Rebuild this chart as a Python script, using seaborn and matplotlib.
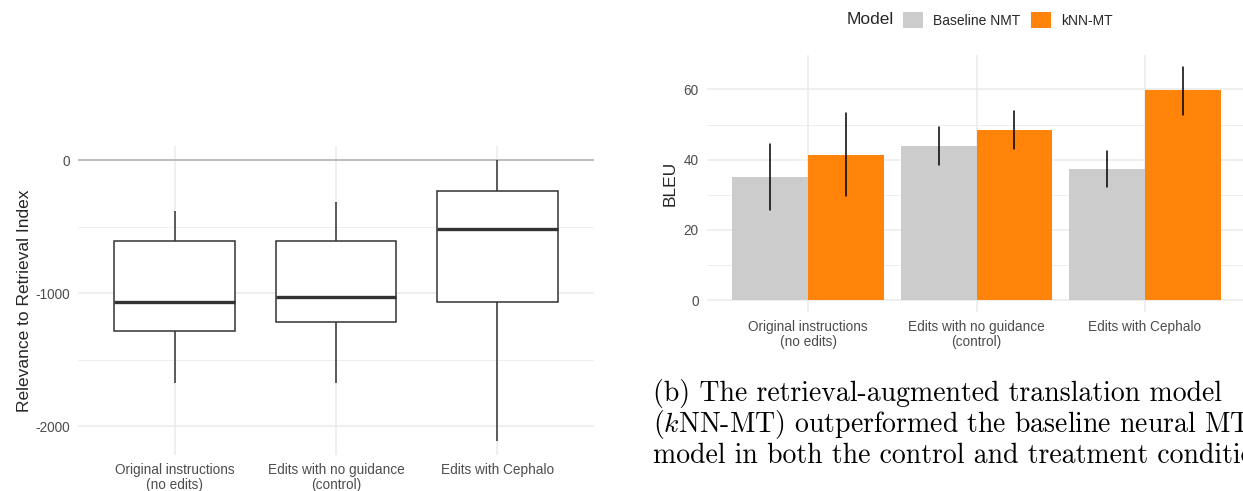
import numpy as np
import pandas as pd
import matplotlib
matplotlib.use("Agg")
import matplotlib.pyplot as plt
import seaborn as sns
from matplotlib.ticker import MultipleLocator, FixedLocator

# ---------------- data ----------------
conditions = ["Original instructions\n(no edits)",
              "Edits with no guidance\n(control)",
              "Edits with Cephalo"]

# five-number summaries (low whisker, Q1, median, Q3, high whisker)
relevance_original = [-1672, -1282, -1070, -606, -386]
relevance_control = [-1672, -1214, -1032, -608, -318]
relevance_cephalo = [-2110, -1070, -517, -234, 0]

models = ["Baseline NMT", "kNN-MT"]
bleu_baseline = [35.0, 44.0, 37.3]
bleu_baseline_low = [25.6, 38.4, 32.1]
bleu_baseline_high = [44.4, 49.4, 42.4]
bleu_knn = [41.4, 48.5, 59.7]
bleu_knn_low = [29.6, 43.0, 52.7]
bleu_knn_high = [53.2, 53.9, 66.5]

relevance_ticks = [-2000, -1000, 0]
bleu_ticks = [0, 20, 40, 60]

caption_lines = [
    "(b) The retrieval-augmented translation model",
    "($k$NN-MT) outperformed the baseline neural MT",
    "model in both the control and treatment conditions.",
]

# ---------------- tables ----------------
df_rel = pd.DataFrame({
    "Condition": np.repeat(conditions, 5),
    "Relevance": relevance_original + relevance_control + relevance_cephalo,
})

rows = []
for model, vals, lows, highs in [(models[0], bleu_baseline, bleu_baseline_low, bleu_baseline_high),
                                 (models[1], bleu_knn, bleu_knn_low, bleu_knn_high)]:
    for cond, v, lo, hi in zip(conditions, vals, lows, highs):
        for x in (lo, v, hi):
            rows.append({"Condition": cond, "Model": model, "BLEU": x})
df_bleu = pd.DataFrame(rows)

# ---------------- style ----------------
sns.set_theme(style="white")
plt.rcParams["font.family"] = ["Liberation Sans", "DejaVu Sans"]
plt.rcParams["axes.unicode_minus"] = False
plt.rcParams["mathtext.fontset"] = "cm"

W, H = 1243, 491
fig = plt.figure(figsize=(W / 100, H / 100), dpi=100)

def box(l, r, t, b):
    return [l / W, 1 - b / H, (r - l) / W, (b - t) / H]

ax1 = fig.add_axes(box(78, 594, 146, 455))
ax2 = fig.add_axes(box(707, 1246, 55, 311.7))

GRID = "#EBEBEB"
TICKC = "#4D4D4D"

# ---------------- left: box plot ----------------
sns.boxplot(data=df_rel, x="Condition", y="Relevance", order=conditions, ax=ax1,
            color="white", linecolor="#333333", linewidth=1.1, width=0.75,
            whis=(0, 100), fliersize=0, showcaps=False,
            medianprops={"linewidth": 2.4, "color": "#333333"})
ax1.set_xlim(-0.6, 2.6)
ax1.set_ylim(-2215.5, 105.5)
ax1.yaxis.set_major_locator(FixedLocator(relevance_ticks))
ax1.yaxis.set_minor_locator(MultipleLocator(500))
ax1.axhline(0, color="#B0B0B0", linewidth=1.1, zorder=1)
ax1.set_ylabel("Relevance to Retrieval Index", fontsize=12.5, labelpad=2)
ax1.set_xlabel("")

# ---------------- right: bar chart ----------------
sns.barplot(data=df_bleu, x="Condition", y="BLEU", hue="Model", order=conditions,
            hue_order=models, palette=["#CCCCCC", "#FF8409"], ax=ax2,
            estimator="median", errorbar=lambda v: (v.min(), v.max()),
            err_kws={"color": "black", "linewidth": 1.1}, capsize=0,
            width=0.9, gap=0, saturation=1, linewidth=0)
ax2.set_xlim(-0.6, 2.6)
ax2.set_ylim(-3.3, 69.8)
ax2.yaxis.set_major_locator(FixedLocator(bleu_ticks))
ax2.yaxis.set_minor_locator(MultipleLocator(10))
ax2.set_ylabel("BLEU", fontsize=12.5, labelpad=4)
ax2.set_xlabel("")

handles = ax2.get_legend().legend_handles
ax2.get_legend().remove()
fig.legend(handles, models, loc="center left", bbox_to_anchor=(903 / W, 1 - 20 / H),
           ncol=2, frameon=False, fontsize=10, handlelength=1.45, handleheight=1.45,
           handletextpad=0.7, columnspacing=0.8, borderpad=0, borderaxespad=0)
fig.text(894 / W, 1 - 20 / H, "Model", ha="right", va="center", fontsize=12.5)

for ax in (ax1, ax2):
    for s in ax.spines.values():
        s.set_visible(False)
    ax.set_axisbelow(True)
    ax.grid(True, which="major", color=GRID, linewidth=1.1)
    ax.grid(True, which="minor", axis="y", color=GRID, linewidth=0.6)
    ax.tick_params(which="both", length=0, pad=6, labelsize=9.8, labelcolor=TICKC)
    for t in ax.get_xticklabels():
        t.set_linespacing(1.05)

# ---------------- caption (cut at the right edge, as in the source page) ----------------
for i, line in enumerate(caption_lines):
    fig.text(653 / W, 1 - (401 + 31 * i) / H, line, fontsize=20,
             family=["cmr10", "DejaVu Serif"], va="baseline", ha="left", color="black")

fig.savefig("out.png", dpi=100)
